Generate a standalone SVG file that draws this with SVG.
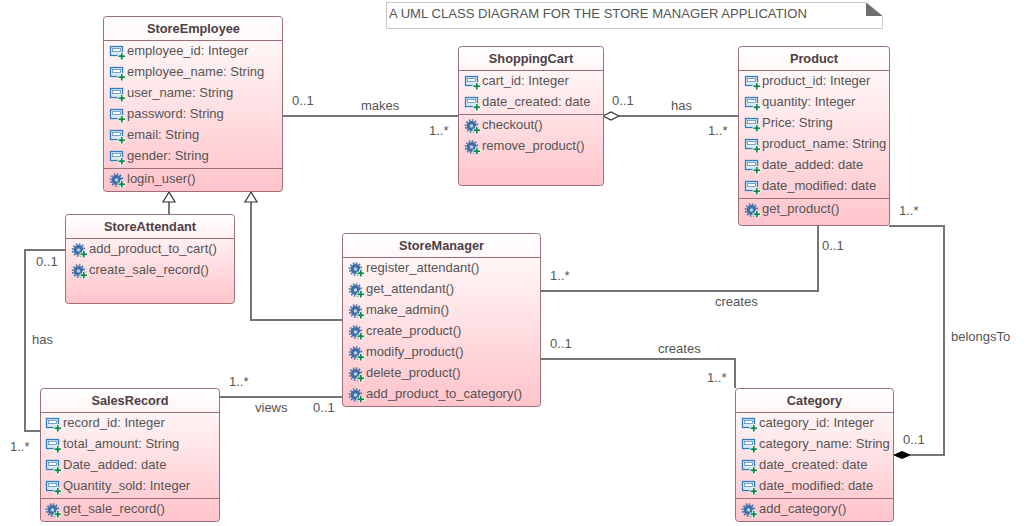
<svg xmlns="http://www.w3.org/2000/svg" width="1031" height="526" viewBox="0 0 1031 526">
<style>
text{font-family:"Liberation Sans",Arial,sans-serif;font-size:13px;fill:#555}
.t{font-weight:bold;font-size:12.75px;text-anchor:middle;fill:#4d4044}
.b{fill:url(#g);stroke:#9a6f78;stroke-width:1}
.d{stroke:#9a6f78;stroke-width:1;fill:none}
.c{fill:none;stroke:#757575;stroke-width:2}
</style>
<defs>
<linearGradient id="g" x1="0" y1="0" x2="0" y2="1"><stop offset="0" stop-color="#fff"/><stop offset="1" stop-color="#ffc4cb"/></linearGradient>
<g id="a">
<rect x="0.500" y="0.500" width="12" height="9" fill="#dcebf8" stroke="#2f7fc0" stroke-width="1.300"/>
<rect x="2.500" y="2.500" width="8" height="3" fill="#fff" stroke="#5b8fb8" stroke-width="0.800"/>
<path d="M10.500 6.500h2.500v2.500h2.500v2.500h-2.500v2.500h-2.500v-2.500h-2.500v-2.500h2.500z" fill="#128a4a" stroke="#fff" stroke-width="0.800"/>
</g>
<g id="m">
<circle cx="6.500" cy="6" r="5" fill="#3d6ea8"/>
<circle cx="6.500" cy="6" r="6" fill="none" stroke="#3d6ea8" stroke-width="1.600" stroke-dasharray="1.600 1.500"/>
<circle cx="6.500" cy="6" r="1.800" fill="#b9d0e8"/>
<path d="M10.500 6.500h2.500v2.500h2.500v2.500h-2.500v2.500h-2.500v-2.500h-2.500v-2.500h2.500z" fill="#128a4a" stroke="#fff" stroke-width="0.800"/>
</g>
</defs>
<rect width="1031" height="526" fill="#fff"/>

<g id="note">
<path d="M386.500 2.500H866L882.500 16V28.500H386.500Z" fill="#fff" stroke="#c8c8c8" stroke-width="1"/>
<path d="M866 2.500V16H882.500Z" fill="#6e6e6e"/>
<text x="389" y="18" style="font-size:13.100px">A UML CLASS DIAGRAM FOR THE STORE MANAGER APPLICATION</text>
</g>

<g id="connectors">
<path class="c" d="M283 116H459"/>
<path class="c" d="M619 116H739"/>
<path d="M603 116l8-4 8 4-8 4z" fill="#fff" stroke="#333" stroke-width="1.200"/>
<path class="c" d="M169 215V202"/>
<path d="M169 192l-6 10h12z" fill="#fff" stroke="#333" stroke-width="1.200"/>
<path class="c" d="M343 320H251V202"/>
<path d="M251 192l-6 10h12z" fill="#fff" stroke="#333" stroke-width="1.200"/>
<path class="c" d="M540 291H818V225"/>
<path class="c" d="M540 359H735V388"/>
<path class="c" d="M219 397H343"/>
<path class="c" d="M66 250H25V431H40"/>
<path class="c" d="M889 226H944V455H910"/>
<path d="M894 455l8-3.500 8 3.500-8 3.500z" fill="#000" stroke="#000" stroke-width="1"/>
</g>

<g id="StoreEmployee">
<rect class="b" x="103.500" y="16.500" width="179" height="175" rx="3"/>
<path class="d" d="M103.500 40.500H282.500M103.500 168.500H282.500"/>
<text class="t" x="193.500" y="33">StoreEmployee</text>
<use href="#a" x="110" y="46"/><text x="127" y="55">employee_id: Integer</text>
<use href="#a" x="110" y="67"/><text x="127" y="76">employee_name: String</text>
<use href="#a" x="110" y="88"/><text x="127" y="97">user_name: String</text>
<use href="#a" x="110" y="109"/><text x="127" y="118">password: String</text>
<use href="#a" x="110" y="130"/><text x="127" y="139">email: String</text>
<use href="#a" x="110" y="151"/><text x="127" y="160">gender: String</text>
<use href="#m" x="110" y="174"/><text x="127" y="183">login_user()</text>
</g>

<g id="ShoppingCart">
<rect class="b" x="458.500" y="46.500" width="145" height="139" rx="3"/>
<path class="d" d="M458.500 70.500H603.500M458.500 114.500H603.500"/>
<text class="t" x="531" y="63">ShoppingCart</text>
<use href="#a" x="465" y="76"/><text x="482" y="85">cart_id: Integer</text>
<use href="#a" x="465" y="97"/><text x="482" y="106">date_created: date</text>
<use href="#m" x="465" y="120"/><text x="482" y="129">checkout()</text>
<use href="#m" x="465" y="141"/><text x="482" y="150">remove_product()</text>
</g>

<g id="Product">
<rect class="b" x="738.500" y="46.500" width="151" height="179" rx="3"/>
<path class="d" d="M738.500 70.500H889.500M738.500 198.500H889.500"/>
<text class="t" x="814" y="63">Product</text>
<use href="#a" x="745" y="76"/><text x="762" y="85">product_id: Integer</text>
<use href="#a" x="745" y="97"/><text x="762" y="106">quantity: Integer</text>
<use href="#a" x="745" y="118"/><text x="762" y="127">Price: String</text>
<use href="#a" x="745" y="139"/><text x="762" y="148">product_name: String</text>
<use href="#a" x="745" y="160"/><text x="762" y="169">date_added: date</text>
<use href="#a" x="745" y="181"/><text x="762" y="190">date_modified: date</text>
<use href="#m" x="745" y="204"/><text x="762" y="213">get_product()</text>
</g>

<g id="StoreAttendant">
<rect class="b" x="65.500" y="214.500" width="169" height="89" rx="3"/>
<path class="d" d="M65.500 238.500H234.500"/>
<text class="t" x="150" y="231">StoreAttendant</text>
<use href="#m" x="72" y="244"/><text x="89" y="253">add_product_to_cart()</text>
<use href="#m" x="72" y="265"/><text x="89" y="274">create_sale_record()</text>
</g>

<g id="StoreManager">
<rect class="b" x="342.500" y="233.500" width="198" height="173" rx="3"/>
<path class="d" d="M342.500 257.500H540.500"/>
<text class="t" x="441.500" y="250">StoreManager</text>
<use href="#m" x="349" y="263"/><text x="366" y="272">register_attendant()</text>
<use href="#m" x="349" y="284"/><text x="366" y="293">get_attendant()</text>
<use href="#m" x="349" y="305"/><text x="366" y="314">make_admin()</text>
<use href="#m" x="349" y="326"/><text x="366" y="335">create_product()</text>
<use href="#m" x="349" y="347"/><text x="366" y="356">modify_product()</text>
<use href="#m" x="349" y="368"/><text x="366" y="377">delete_product()</text>
<use href="#m" x="349" y="389"/><text x="366" y="398">add_product_to_category()</text>
</g>

<g id="SalesRecord">
<rect class="b" x="40.500" y="388.500" width="179" height="133" rx="3"/>
<path class="d" d="M40.500 412.500H219.500M40.500 498.500H219.500"/>
<text class="t" x="130" y="405">SalesRecord</text>
<use href="#a" x="46" y="418"/><text x="63" y="427">record_id: Integer</text>
<use href="#a" x="46" y="439"/><text x="63" y="448">total_amount: String</text>
<use href="#a" x="46" y="460"/><text x="63" y="469">Date_added: date</text>
<use href="#a" x="46" y="481"/><text x="63" y="490">Quantity_sold: Integer</text>
<use href="#m" x="46" y="504"/><text x="63" y="513">get_sale_record()</text>
</g>

<g id="Category">
<rect class="b" x="735.500" y="388.500" width="158" height="133" rx="3"/>
<path class="d" d="M735.500 412.500H893.500M735.500 498.500H893.500"/>
<text class="t" x="814.500" y="405">Category</text>
<use href="#a" x="742" y="418"/><text x="759" y="427">category_id: Integer</text>
<use href="#a" x="742" y="439"/><text x="759" y="448">category_name: String</text>
<use href="#a" x="742" y="460"/><text x="759" y="469">date_created: date</text>
<use href="#a" x="742" y="481"/><text x="759" y="490">date_modified: date</text>
<use href="#m" x="742" y="504"/><text x="759" y="513">add_category()</text>
</g>

<g id="labels">
<text x="292" y="105">0..1</text>
<text x="361" y="110">makes</text>
<text x="429" y="135">1..*</text>
<text x="612" y="105">0..1</text>
<text x="671" y="110">has</text>
<text x="708" y="135">1..*</text>
<text x="899" y="215">1..*</text>
<text x="822" y="250">0..1</text>
<text x="951" y="341">belongsTo</text>
<text x="550" y="280">1..*</text>
<text x="715" y="306">creates</text>
<text x="550" y="348">0..1</text>
<text x="658" y="353">creates</text>
<text x="707" y="382">1..*</text>
<text x="903" y="444">0..1</text>
<text x="36" y="266">0..1</text>
<text x="32" y="344">has</text>
<text x="10" y="451">1..*</text>
<text x="229" y="386">1..*</text>
<text x="255" y="412">views</text>
<text x="313" y="412">0..1</text>
</g>
</svg>
